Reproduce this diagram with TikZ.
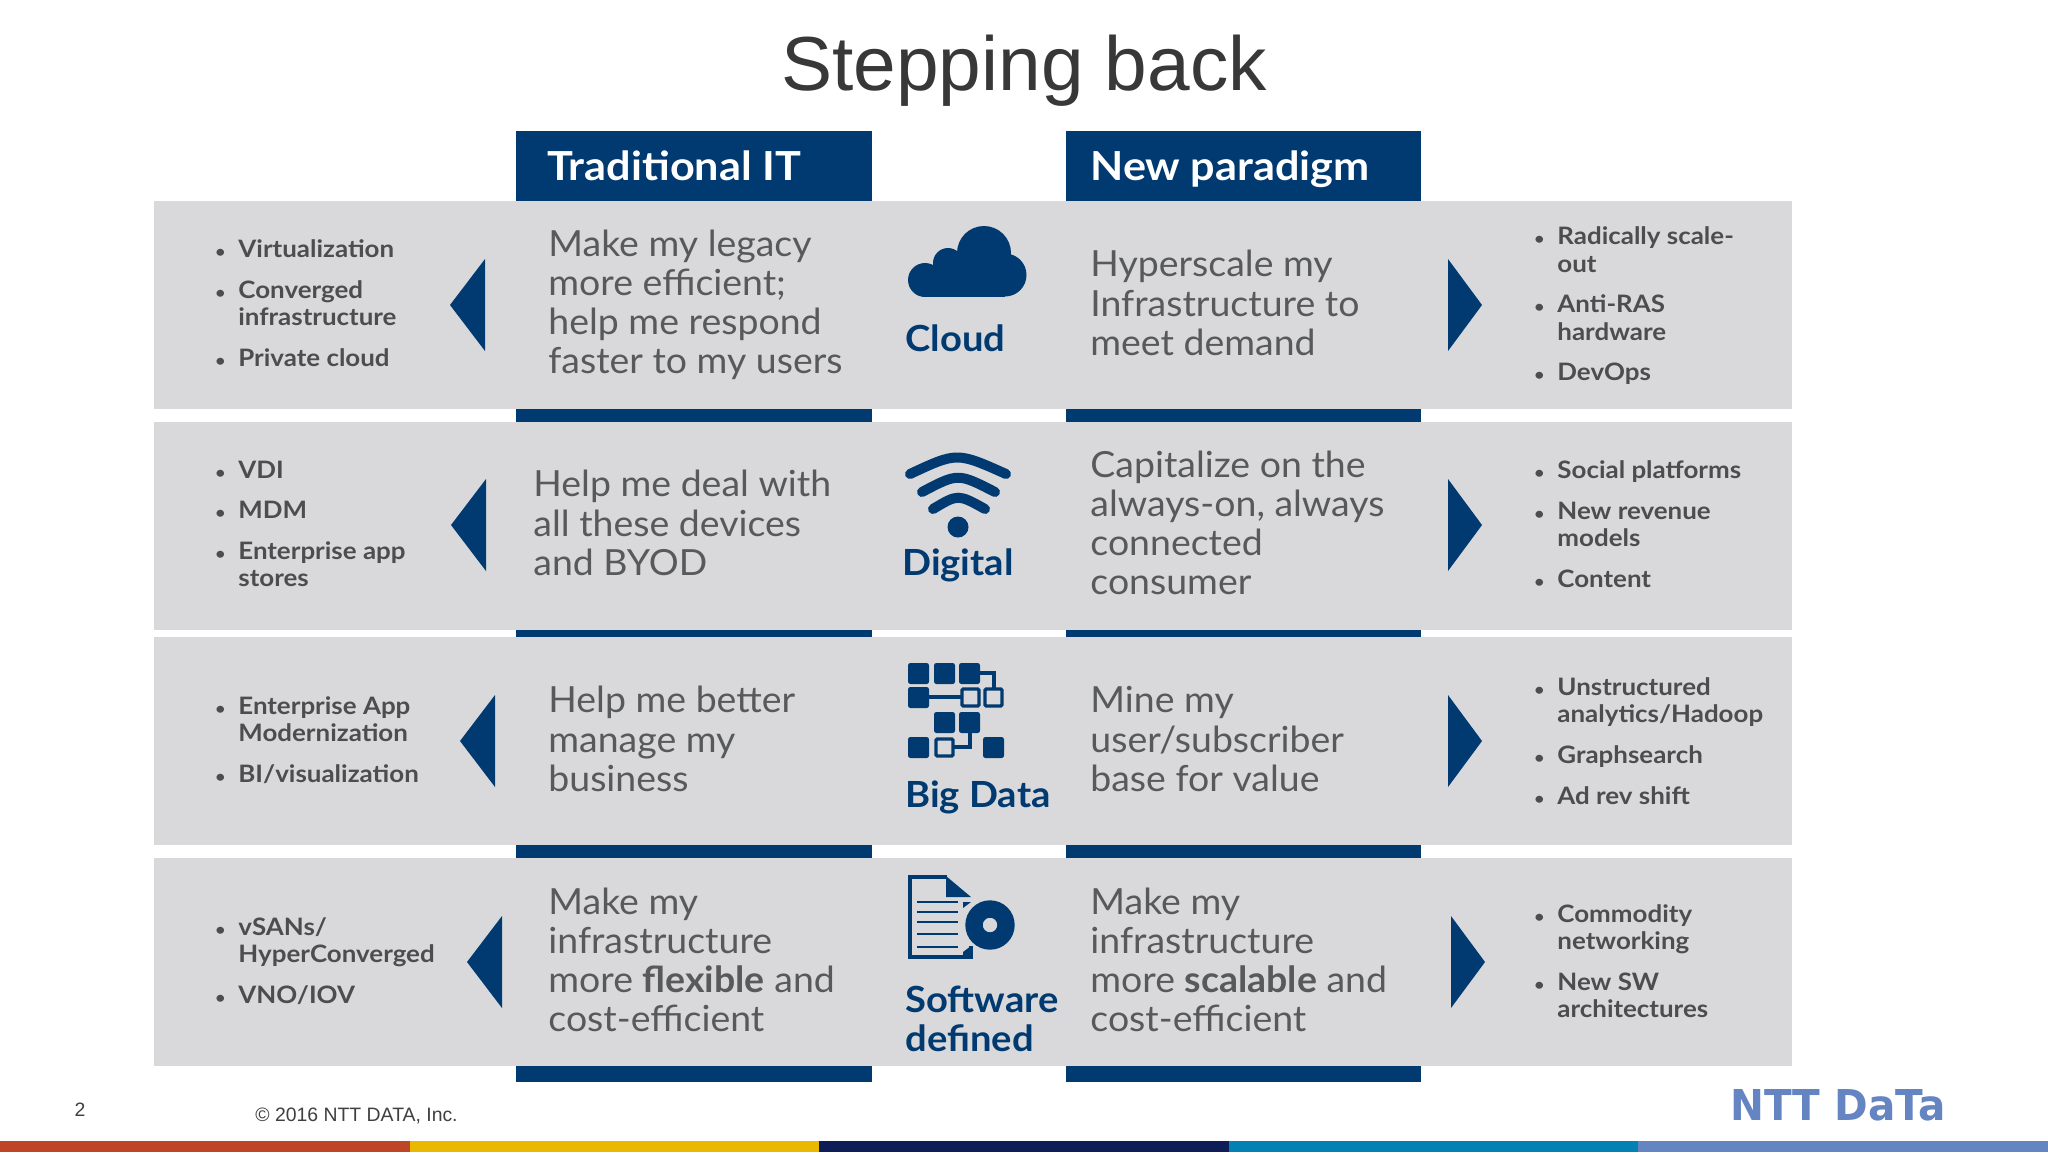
\documentclass[tikz,border=0pt]{standalone}
\usepackage{fontspec}
\setmainfont{Lato}[FakeStretch=1.04]
\newfontfamily\arialfont{Liberation Sans}
\newfontfamily\listfont{Lato}[FakeStretch=1.08]
\newfontfamily\headfont{Lato}[FakeStretch=1.08]
\newfontfamily\tagfont{Lato}[FakeStretch=1.06]
\newfontfamily\logofont{DejaVu Sans}
\usepackage{tikz}
\usetikzlibrary{positioning}
\definecolor{cNavy}{RGB}{0,58,112}
\definecolor{cRow}{RGB}{217,217,219}
\definecolor{cText}{RGB}{88,89,91}
\definecolor{cList}{RGB}{77,77,79}
\definecolor{cLogo}{RGB}{100,132,194}
\definecolor{cRed}{RGB}{190,69,38}
\definecolor{cYel}{RGB}{234,184,0}
\definecolor{cDrk}{RGB}{14,29,86}
\definecolor{cTea}{RGB}{4,129,180}
\newcommand{\bul}{\llap{{\fontsize{8}{8}\selectfont\textbullet}\hspace{6.5pt}}}
\begin{document}
\begin{tikzpicture}[x=0.5pt,y=-0.5pt,
  head/.style={anchor=base west, inner sep=0, text=white, font=\headfont\fontsize{20}{20}\bfseries\selectfont},
  claim/.style={anchor=west, inner sep=0, align=left, text=cText, font=\fontsize{18}{19.6}\selectfont},
  list/.style={anchor=west, inner sep=0, align=left, text=cList, font=\listfont\fontsize{12}{13.7}\bfseries\selectfont},
  tag/.style={anchor=west, inner sep=0, align=left, text=cNavy, font=\tagfont\fontsize{18}{19.6}\bfseries\selectfont},
  foot/.style={inner sep=0, text=black!75, font=\arialfont\fontsize{9.7}{10}\selectfont},
  icn/.style={line width=1.6pt, cNavy},
  cell/.style={fill=cNavy, rounded corners=1.2pt},
  opencell/.style={draw=cNavy, line width=1.7pt, rounded corners=0.6pt}]
\useasboundingbox (0,0) rectangle (2048,1152);
\fill[white] (0,0) rectangle (2048,1152);
\foreach \ytop/\ybot in {201/409,422/630,637/845,858/1066}
  \fill[cRow] (154,\ytop) rectangle (1792,\ybot);
\foreach \xa/\xb in {516/872,1066/1421} {
  \fill[cNavy] (\xa,131) rectangle (\xb,201);
  \foreach \ya/\yb in {409/422,630/637,845/858,1066/1082}
    \fill[cNavy] (\xa,\ya) rectangle (\xb,\yb);
}
\foreach \xc/\ymid in {450/305,451/525,460/741,467/962}
  \fill[cNavy] (\xc,\ymid) -- (\xc+35,\ymid-46) -- (\xc+35,\ymid+46) -- cycle;
\foreach \xc/\ymid in {1482/305,1482/525,1482/741,1485/962}
  \fill[cNavy] (\xc,\ymid) -- (\xc-34,\ymid-46) -- (\xc-34,\ymid+46) -- cycle;
\node[inner sep=0, text=black!78, font=\arialfont\fontsize{38.3}{38.3}\selectfont] (title) at (1024,71) {Stepping back};
\node[head] (hTrad) at (547,180) {Traditional IT};
\node[head] (hNew) at (1090,180) {New paradigm};
\node[claim] (trad1) at (548,305) {Make my legacy\\more efficient;\\help me respond\\faster to my users};
\node[claim] (trad2) at (533,523) {Help me deal with\\all these devices\\and BYOD};
\node[claim] (trad3) at (548,739) {Help me better\\manage my\\business};
\node[claim] (trad4) at (548,960) {Make my\\infrastructure\\more \textbf{flexible} and\\cost-efficient};
\node[claim] (new1) at (1090,303) {Hyperscale my\\Infrastructure to\\meet demand};
\node[claim] (new2) at (1090,523) {Capitalize on the\\always-on, always\\connected\\consumer};
\node[claim] (new3) at (1090,739) {Mine my\\user/subscriber\\base for value};
\node[claim] (new4) at (1090,960) {Make my\\infrastructure\\more \textbf{scalable} and\\cost-efficient};
\node[list] (lst1) at (238,303) {\bul Virtualization\\[6.6pt]\bul Converged\\infrastructure\\[6.6pt]\bul Private cloud};
\node[list] (lst2) at (238,524) {\bul VDI\\[6.6pt]\bul MDM\\[6.6pt]\bul Enterprise app\\stores};
\node[list] (lst3) at (238,740) {\bul Enterprise App\\Modernization\\[6.6pt]\bul BI/visualization};
\node[list] (lst4) at (238,961) {\bul vSANs/\\HyperConverged\\[6.6pt]\bul VNO/IOV};
\node[list] (rst1) at (1557,306) {\bul Radically scale-\\out\\[6.6pt]\bul Anti-RAS\\hardware\\[6.6pt]\bul DevOps};
\node[list] (rst2) at (1557,524) {\bul Social platforms\\[6.6pt]\bul New revenue\\models\\[6.6pt]\bul Content};
\node[list] (rst3) at (1557,741) {\bul Unstructured\\analytics/Hadoop\\[6.6pt]\bul Graphsearch\\[6.6pt]\bul Ad rev shift};
\node[list] (rst4) at (1557,961) {\bul Commodity\\networking\\[6.6pt]\bul New SW\\architectures};
\node[tag] (tCloud) at (905,338) {Cloud};
\node[tag] (tDigital) at (902,565) {Digital};
\node[tag] (tBig) at (905,797) {Big Data};
\node[tag] (tSoft) at (905,1019) {Software\\defined};
\fill[cNavy] (984,253) circle (27) (948,263) circle (15) (925,280) circle (17) (1005,275) circle (21.5);
\fill[cNavy] (925,265) rectangle (1005,297);
\foreach \xa/\ya/\xc/\yc/\xb in {910/474/957/452/1006,922/492/958/473/995,933/509/958/494/985}
  \draw[icn, line width=5pt, line cap=round] (\xa,\ya) .. controls (\xc,\yc) .. (\xb,\ya);
\fill[cNavy] (958,527) circle (10.5);
\foreach \xa/\ya in {908/663,934/663,959/663,908/687,934/712,959/712,908/737,983/737}
  \fill[cell] (\xa,\ya) rectangle +(21,21);
\draw[icn] (928,697) -- (963,697);
\draw[icn] (978,673) -- (994,673) -- (994,688);
\draw[icn] (970,732) -- (970,747) -- (953,747);
\foreach \xa/\ya in {962/689,985/689,936/739}
  \draw[opencell] (\xa,\ya) rectangle +(17,17);
\draw[cNavy, line width=1.7pt] (947,877) -- (910,877) -- (910,957) -- (971,957) -- (971,946);
\fill[cNavy] (946,876) -- (971,897) -- (946,897) -- cycle;
\fill[cNavy] (963,902) -- (971,902) -- (963,908) -- cycle;
\fill[cNavy] (971,946) -- (971,958) -- (963,958) -- (963,952) -- cycle;
\foreach \yl in {902,912,922,934,947}
  \draw[cNavy, line width=0.6pt] (917,\yl) -- (958,\yl);
\fill[cNavy, even odd rule] (990,925) circle (24.7) (990,925) circle (7.3);
\node[foot] (pgnum) at (80,1110) {2};
\node[foot, anchor=west] (copyr) at (255,1116) {© 2016 NTT DATA, Inc.};
\node[anchor=west, inner sep=0, text=cLogo, font=\logofont\bfseries] (logo) at (1730,1105) {\resizebox{107.5pt}{15.5pt}{NTT DaTa}};
\foreach \xa/\xb/\cc in {0/410/cRed,410/819/cYel,819/1229/cDrk,1229/1638/cTea,1638/2048/cLogo}
  \fill[\cc] (\xa,1141) rectangle (\xb,1152);
\end{tikzpicture}
\end{document}
